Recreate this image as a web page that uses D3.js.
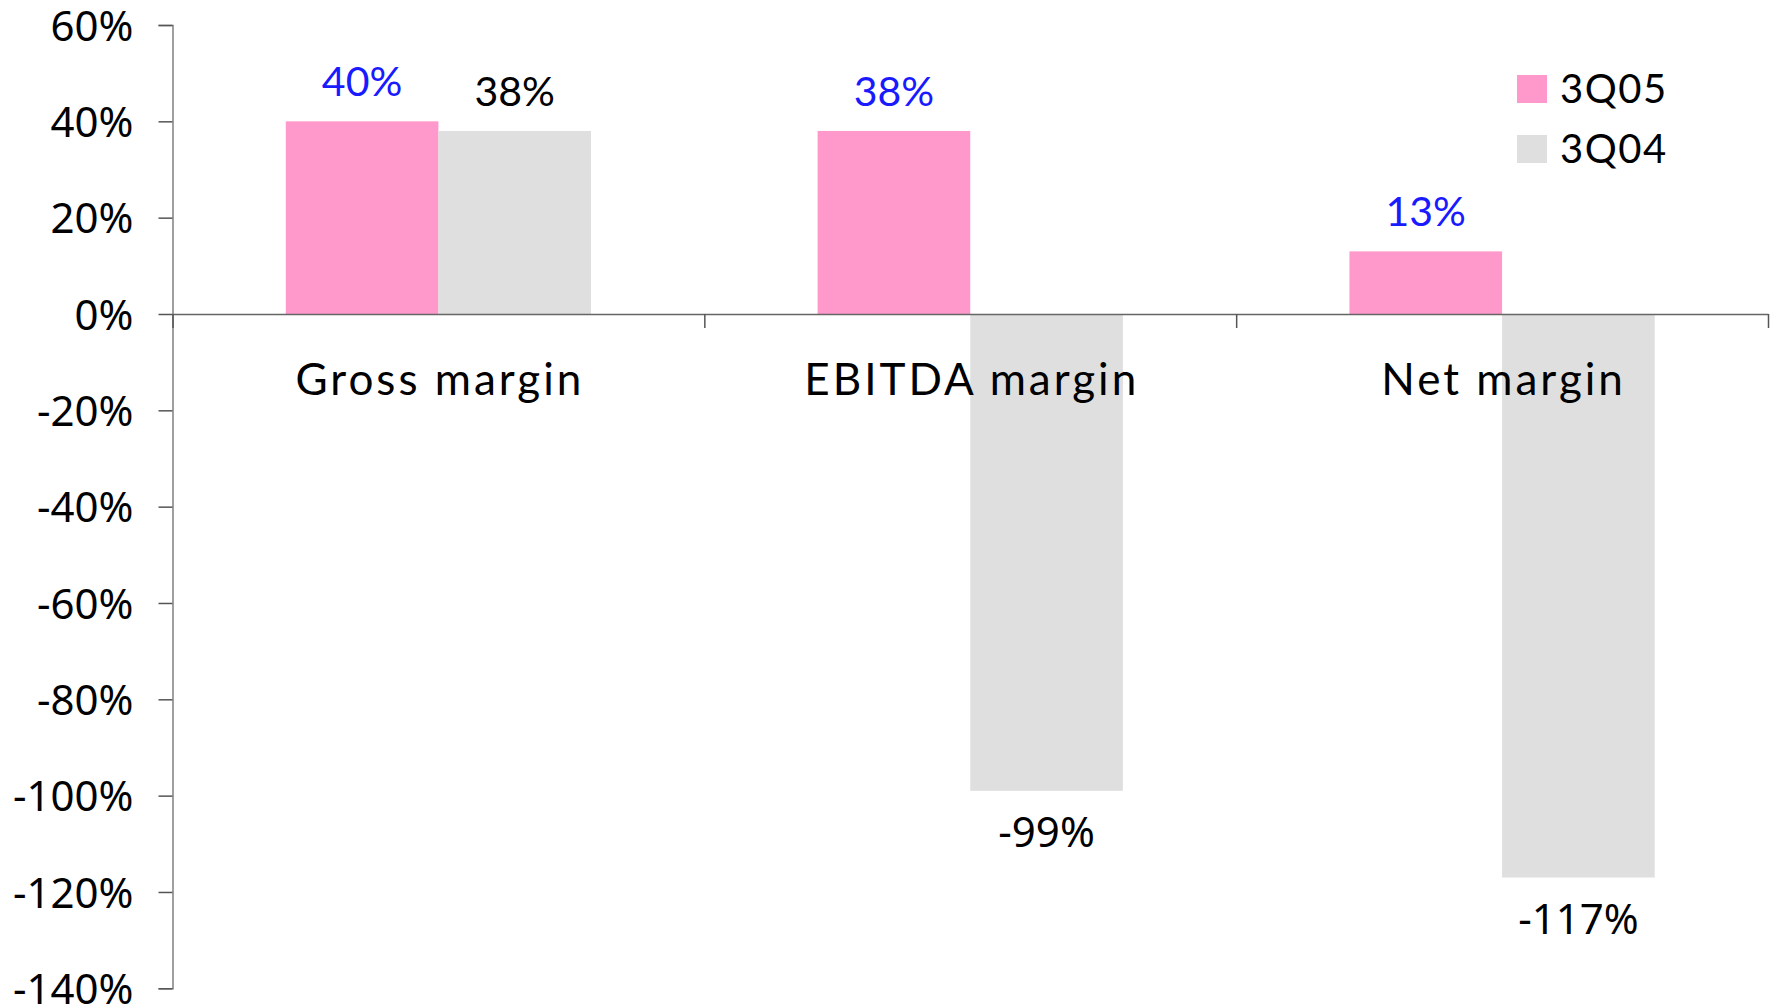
<!DOCTYPE html>
<html>
<head>
<meta charset="utf-8">
<script src="https://cdn.jsdelivr.net/npm/d3@7"></script>
<style>
  body { margin: 0; background: #fff; }
  svg { display: block; }
</style>
</head>
<body>
<svg id="chart"></svg>
<script>
// margins chart - 3Q05 vs 3Q04

var categories = ["Gross margin", "EBITDA margin", "Net margin"];
var seriesNames = ["3Q05", "3Q04"];
var values3Q05 = [40, 38, 13];
var values3Q04 = [38, -99, -117];
var yTicks = [60, 40, 20, 0, -20, -40, -60, -80, -100, -120, -140];

var colors = { "3Q05": "#ff99cc", "3Q04": "#dfdfdf" };
var labelColors = { "3Q05": "#1a1aff", "3Q04": "#000" };

var width = 1774, height = 1008;
var plotLeft = 172.5, plotRight = 1768, plotTop = 25, plotBottom = 988.3;

var svg = d3.select("#chart").attr("width", width).attr("height", height);

var y = d3.scaleLinear().domain([-140, 60]).range([plotBottom, plotTop]);

var x = d3.scaleBand()
	.domain(categories)
	.range([plotLeft, plotRight])
	.paddingInner(0.426)
	.paddingOuter(0.213);

var xSub = d3.scaleBand().domain(seriesNames).range([0, x.bandwidth()]);

// y axis
var yAxis = svg.append("g")
	.attr("transform", "translate(" + plotLeft + ",0)")
	.call(d3.axisLeft(y).tickValues(yTicks).tickSize(14).tickSizeOuter(14)
		.tickFormat(function (d) { return d + "%"; }));
yAxis.select(".domain").attr("stroke", "#808080").attr("stroke-width", 1.5);
yAxis.selectAll(".tick line").attr("stroke", "#555").attr("stroke-width", 1.5);
yAxis.selectAll(".tick text")
	.attr("x", -39)
	.attr("dy", "0.36em")
	.attr("font-family", "'Noto Sans', sans-serif")
	.attr("font-size", 42)
	.attr("fill", "#000");

// bars
var rows = categories.map(function (c, i) {
	return { cat: c, vals: [ { s: "3Q05", v: values3Q05[i] }, { s: "3Q04", v: values3Q04[i] } ] };
});

var groups = svg.append("g").selectAll("g")
	.data(rows)
	.enter().append("g")
	.attr("transform", function (d) { return "translate(" + x(d.cat) + ",0)"; });

groups.selectAll("rect")
	.data(function (d) { return d.vals; })
	.enter().append("rect")
	.attr("x", function (d) { return xSub(d.s); })
	.attr("width", xSub.bandwidth())
	.attr("y", function (d) { return y(Math.max(0, d.v)); })
	.attr("height", function (d) { return Math.abs(y(d.v) - y(0)); })
	.attr("fill", function (d) { return colors[d.s]; });

// value labels
groups.selectAll("text.val")
	.data(function (d) { return d.vals; })
	.enter().append("text")
	.attr("class", "val")
	.attr("text-anchor", "middle")
	.attr("x", function (d) { return xSub(d.s) + xSub.bandwidth() / 2; })
	.attr("y", function (d) { return d.v >= 0 ? y(d.v) - 25 : y(d.v) + 56; })
	.attr("font-family", function (d) { return d.v >= 0 ? "Lato, sans-serif" : "'Noto Sans', sans-serif"; })
	.attr("font-size", function (d) { return d.v >= 0 ? 41 : 42; })
	.attr("fill", function (d) { return labelColors[d.s]; })
	.text(function (d) { return d.v + "%"; });

// x axis (zero line with boundary ticks)
var xEdge = d3.scaleLinear().domain([0, 3]).range([plotLeft, plotRight]);
var xAxis = svg.append("g")
	.attr("transform", "translate(0," + y(0) + ")")
	.call(d3.axisBottom(xEdge).tickValues([0, 1, 2, 3]).tickSize(14).tickSizeOuter(0).tickFormat(""));
xAxis.select(".domain").attr("stroke", "#666").attr("stroke-width", 1.5);
xAxis.selectAll(".tick line").attr("stroke", "#555").attr("stroke-width", 1.5);

svg.append("g").selectAll("text")
	.data(categories)
	.enter().append("text")
	.attr("x", function (d) { return x(d) + x.bandwidth() / 2 + 1.5; })
	.attr("y", 395)
	.attr("text-anchor", "middle")
	.attr("font-family", "Lato, sans-serif")
	.attr("font-size", 44)
	.attr("letter-spacing", 3)
	.attr("fill", "#000")
	.text(function (d) { return d; });

// legend
var legend = svg.append("g").selectAll("g")
	.data(seriesNames)
	.enter().append("g")
	.attr("transform", function (d, i) { return "translate(1517," + (75 + i * 60) + ")"; });
legend.append("rect").attr("width", 30).attr("height", 28)
	.attr("fill", function (d) { return colors[d]; });
legend.append("text")
	.attr("x", 43).attr("y", 28)
	.attr("font-family", "Lato, sans-serif")
	.attr("font-size", 40)
	.attr("letter-spacing", 1.5)
	.attr("fill", "#000")
	.text(function (d) { return d; });
</script>
</body>
</html>
